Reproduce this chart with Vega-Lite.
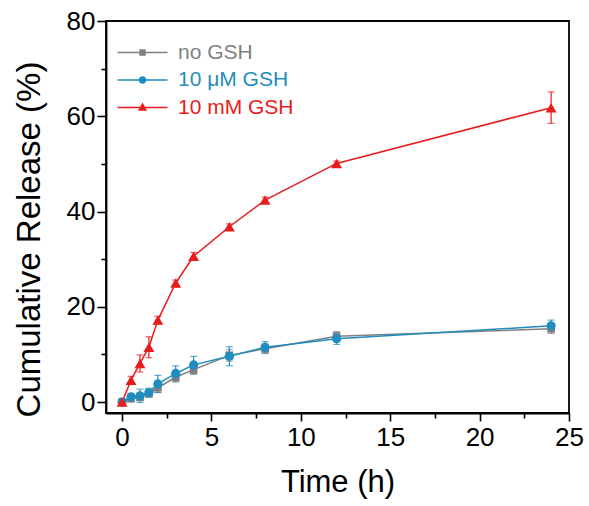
{
  "$schema": "https://vega.github.io/schema/vega-lite/v6.json",
  "width": 463,
  "height": 392,
  "autosize": {"type": "none"},
  "padding": {"left": 106, "top": 21, "right": 20, "bottom": 93},
  "background": "white",
  "config": {
    "font": "Liberation Sans",
    "view": {"stroke": "black", "strokeWidth": 1.8},
    "axis": {
      "grid": false,
      "domainColor": "black",
      "domainWidth": 1.8,
      "tickColor": "black",
      "tickWidth": 1.6,
      "labelColor": "black",
      "labelFont": "Liberation Sans",
      "labelFontSize": 26,
      "titleFont": "Liberation Sans",
      "titleFontWeight": "normal",
      "titleColor": "black",
      "labelFlush": false,
      "labelOverlap": false,
      "labelBound": false
    }
  },
  "data": {
    "values": [
      {"t": 0, "cond": "no GSH", "v": 0, "e": 0.3},
      {"t": 0.5, "cond": "no GSH", "v": 0.7, "e": 0.5},
      {"t": 1, "cond": "no GSH", "v": 1.0, "e": 0.7},
      {"t": 1.5, "cond": "no GSH", "v": 1.8, "e": 0.8},
      {"t": 2, "cond": "no GSH", "v": 3.0, "e": 1.0},
      {"t": 3, "cond": "no GSH", "v": 5.2, "e": 1.0},
      {"t": 4, "cond": "no GSH", "v": 6.8, "e": 1.0},
      {"t": 6, "cond": "no GSH", "v": 9.8, "e": 1.2},
      {"t": 8, "cond": "no GSH", "v": 11.2, "e": 1.0},
      {"t": 12, "cond": "no GSH", "v": 13.8, "e": 1.0},
      {"t": 24, "cond": "no GSH", "v": 15.4, "e": 1.0},
      {"t": 0, "cond": "10 μM GSH", "v": 0, "e": 0.3},
      {"t": 0.5, "cond": "10 μM GSH", "v": 1.1, "e": 0.6},
      {"t": 1, "cond": "10 μM GSH", "v": 1.3, "e": 1.4},
      {"t": 1.5, "cond": "10 μM GSH", "v": 2.0, "e": 0.9},
      {"t": 2, "cond": "10 μM GSH", "v": 3.8, "e": 1.8},
      {"t": 3, "cond": "10 μM GSH", "v": 6.0, "e": 1.6},
      {"t": 4, "cond": "10 μM GSH", "v": 7.8, "e": 1.8},
      {"t": 6, "cond": "10 μM GSH", "v": 9.6, "e": 2.0},
      {"t": 8, "cond": "10 μM GSH", "v": 11.5, "e": 1.2},
      {"t": 12, "cond": "10 μM GSH", "v": 13.3, "e": 1.2},
      {"t": 24, "cond": "10 μM GSH", "v": 16.0, "e": 1.2},
      {"t": 0, "cond": "10 mM GSH", "v": 0, "e": 0.3},
      {"t": 0.5, "cond": "10 mM GSH", "v": 4.6, "e": 0.8},
      {"t": 1, "cond": "10 mM GSH", "v": 8.1, "e": 1.8},
      {"t": 1.5, "cond": "10 mM GSH", "v": 11.5, "e": 2.2},
      {"t": 2, "cond": "10 mM GSH", "v": 17.2, "e": 0.8},
      {"t": 3, "cond": "10 mM GSH", "v": 25.0, "e": 0.6},
      {"t": 4, "cond": "10 mM GSH", "v": 30.6, "e": 0.8},
      {"t": 6, "cond": "10 mM GSH", "v": 36.8, "e": 0.6},
      {"t": 8, "cond": "10 mM GSH", "v": 42.4, "e": 0.6},
      {"t": 12, "cond": "10 mM GSH", "v": 50.1, "e": 0.5},
      {"t": 24, "cond": "10 mM GSH", "v": 61.8, "e": 3.3}
    ]
  },
  "encoding": {
    "x": {
      "field": "t",
      "type": "quantitative",
      "scale": {"domain": [-0.9, 25], "nice": false, "zero": false},
      "axis": {
        "title": "Time (h)",
        "titleFontSize": 31,
        "values": [0, 2.5, 5, 7.5, 10, 12.5, 15, 17.5, 20, 22.5, 25],
        "labelExpr": "datum.value % 5 == 0 ? datum.label : ''",
        "tickSize": {"condition": {"test": "datum.value % 5 != 0", "value": 5}, "value": 8},
        "labelPadding": 3,
        "titlePadding": 17
      }
    },
    "color": {
      "field": "cond",
      "type": "nominal",
      "scale": {
        "domain": ["no GSH", "10 μM GSH", "10 mM GSH"],
        "range": ["#7f7f7f", "#1f8dc0", "#e81c1c"]
      },
      "legend": {
        "orient": "none",
        "legendX": 11,
        "legendY": 21,
        "title": null,
        "padding": 0,
        "labelFont": "Liberation Sans",
        "labelFontSize": 21,
        "symbolSize": 64,
        "symbolOffset": 15,
        "labelOffset": 25,
        "rowPadding": 5.5,
        "symbolStrokeWidth": 0,
        "encode": {
          "symbols": {
            "update": {
              "shape": {"signal": "datum.value == 'no GSH' ? 'M-6.25,-0.19H6.25V0.19H-6.25ZM-0.8,-0.8H0.8V0.8H-0.8Z' : (datum.value == '10 μM GSH' ? 'M-6.25,-0.19H6.25V0.19H-6.25ZM-0.95,0A0.95,0.95 0 1,1 0.95,0A0.95,0.95 0 1,1 -0.95,0Z' : 'M-6.25,-0.19H6.25V0.19H-6.25ZM0,-1.25L1.15,0.8H-1.15Z')"},
              "fill": {"scale": "color", "field": "value"},
              "opacity": {"value": 1}
            }
          },
          "labels": {
            "update": {
              "fill": {"scale": "color", "field": "value"}
            }
          }
        }
      }
    }
  },
  "layer": [
    {
      "mark": {"type": "errorbar", "ticks": {"size": 7}, "thickness": 1.2},
      "encoding": {
        "y": {
          "field": "v",
          "type": "quantitative",
          "scale": {"domain": [-2.3, 80], "nice": false, "zero": false},
          "axis": {
            "title": "Cumulative Release (%)",
            "titleFontSize": 33,
            "titleY": 218,
            "values": [0, 10, 20, 30, 40, 50, 60, 70, 80],
            "labelExpr": "datum.value % 20 == 0 ? datum.label : ''",
            "tickSize": {"condition": {"test": "datum.value % 20 != 0", "value": 5}, "value": 9},
            "labelPadding": 2,
            "titlePadding": 20
          }
        },
        "yError": {"field": "e"}
      }
    },
    {
      "mark": {"type": "line", "strokeWidth": 1.5},
      "encoding": {
        "y": {"field": "v", "type": "quantitative"}
      }
    },
    {
      "transform": [{"filter": {"field": "cond", "equal": "no GSH"}}],
      "mark": {"type": "point", "filled": true, "opacity": 1, "shape": "square", "size": 60},
      "encoding": {
        "y": {"field": "v", "type": "quantitative"}
      }
    },
    {
      "transform": [{"filter": {"field": "cond", "equal": "10 μM GSH"}}],
      "mark": {"type": "point", "filled": true, "opacity": 1, "shape": "circle", "size": 85},
      "encoding": {
        "y": {"field": "v", "type": "quantitative"}
      }
    },
    {
      "transform": [{"filter": {"field": "cond", "equal": "10 mM GSH"}}],
      "mark": {"type": "point", "filled": true, "opacity": 1, "shape": "triangle-up", "size": 120},
      "encoding": {
        "y": {"field": "v", "type": "quantitative"}
      }
    }
  ]
}
